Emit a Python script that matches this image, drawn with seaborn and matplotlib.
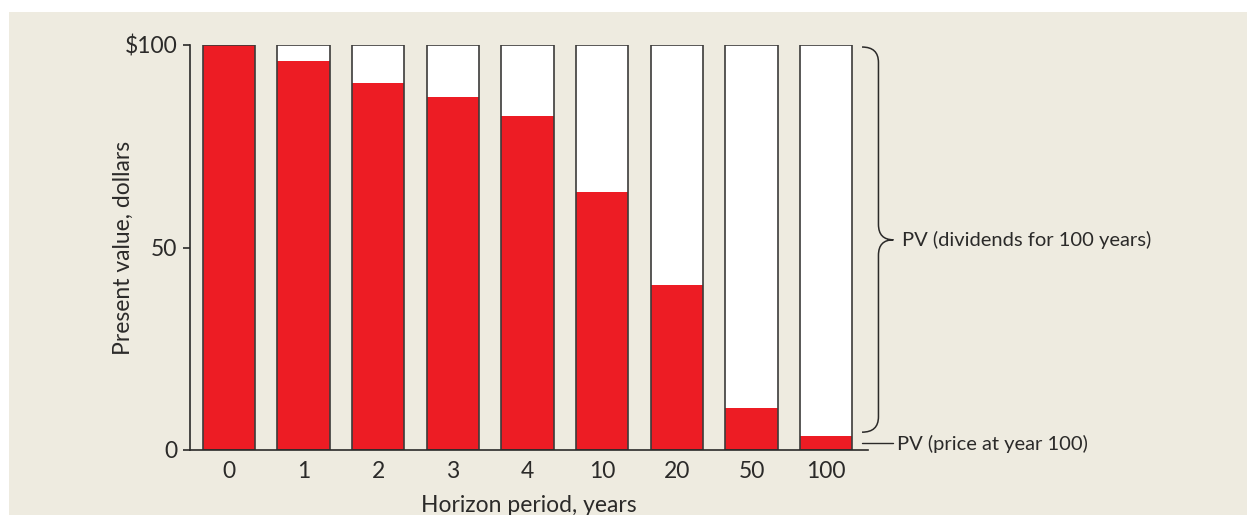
import matplotlib
matplotlib.use("Agg")
from matplotlib import pyplot as plt
from matplotlib.patches import Rectangle, PathPatch
from matplotlib.path import Path
import seaborn as sns

# horizon periods and present value of the year-H price
horizon = ['0', '1', '2', '3', '4', '10', '20', '50', '100']
pv_price = [100, 96.0, 90.5, 87.2, 82.5, 63.8, 40.8, 10.4, 3.5]
pv_total = [100] * len(horizon)

red = '#ED1C24'
ink = '#2b2a29'
panel = '#EEEBE0'

sns.set_style('ticks')
plt.rcParams['font.family'] = ['Lato', 'DejaVu Sans']
plt.rcParams['text.color'] = ink

fig = plt.figure(figsize=(12.47, 5.15), dpi=100, facecolor='white')
fig.patches.append(Rectangle((9 / 1247, 0), 1, (515 - 12) / 515,
                             transform=fig.transFigure, facecolor=panel,
                             edgecolor='none', zorder=-10))
ax = fig.add_axes([190 / 1247, 65 / 515, (868 - 190) / 1247, 405 / 515])
ax.set_facecolor('none')

# whole bar (price + dividends), then the price part, then the outline on top
sns.barplot(x=horizon, y=pv_total, color='white', width=0.7, errorbar=None,
            linewidth=0, saturation=1, ax=ax)
sns.barplot(x=horizon, y=pv_price, color=red, width=0.7, errorbar=None,
            linewidth=0, saturation=1, ax=ax)
sns.barplot(x=horizon, y=pv_total, color='#3c3b3a', width=0.7, errorbar=None,
            fill=False, linewidth=1.2, ax=ax)

ax.set_xlim(-0.52, 8.56)
ax.set_ylim(0, 100)
ax.set_yticks([0, 50, 100])
ax.set_yticklabels(['0', '50', '$100'])
ax.tick_params(axis='y', length=5, width=1.2, color=ink, labelsize=16.5,
               labelcolor=ink, pad=4)
ax.tick_params(axis='x', length=0, labelsize=16.5, labelcolor=ink, pad=8)
for s in ['top', 'right']:
    ax.spines[s].set_visible(False)
for s in ['left', 'bottom']:
    ax.spines[s].set_color(ink)
    ax.spines[s].set_linewidth(1.2)

ax.set_xlabel('Horizon period, years', fontsize=16.5, color=ink, va='center')
ax.xaxis.set_label_coords(0.5, -0.136)
ax.set_ylabel('Present value, dollars', fontsize=16.5, color=ink, va='center')
ax.yaxis.set_label_coords(-0.099, 0.5)

# curly brace for the dividend part
x0, x1, x2 = 8.48, 8.70, 8.90
ytop, ybot, ymid, r = 99.5, 4.4, 51.9, 3.8
verts = [(x0, ytop), (x1, ytop), (x1, ytop - r), (x1, ymid + r),
         (x1, ymid), (x2, ymid), (x1, ymid), (x1, ymid - r),
         (x1, ybot + r), (x1, ybot), (x0, ybot)]
codes = [Path.MOVETO, Path.CURVE3, Path.CURVE3, Path.LINETO,
         Path.CURVE3, Path.CURVE3, Path.CURVE3, Path.CURVE3,
         Path.LINETO, Path.CURVE3, Path.CURVE3]
ax.add_patch(PathPatch(Path(verts, codes), facecolor='none', edgecolor=ink,
                       linewidth=1.1, clip_on=False))
ax.text(9.02, ymid, 'PV (dividends for 100 years)', fontsize=14.5,
        va='center', ha='left', color=ink, clip_on=False)

ax.plot([8.48, 8.89], [1.7, 1.7], color=ink, linewidth=1.0, clip_on=False)
ax.text(8.95, 1.5, 'PV (price at year 100)', fontsize=14.5,
        va='center', ha='left', color=ink, clip_on=False)

plt.savefig('out.png', dpi=100, facecolor='white')
